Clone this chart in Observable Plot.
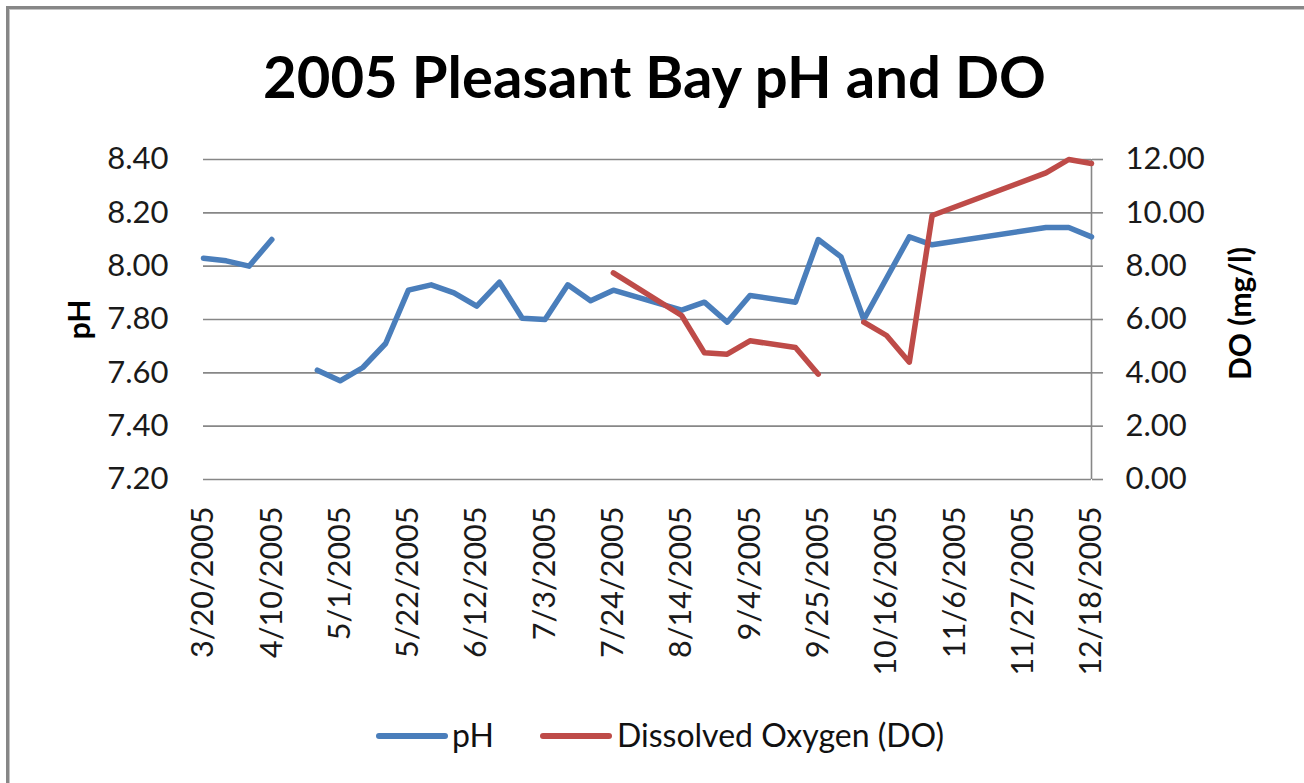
<!DOCTYPE html>
<html>
<head>
<meta charset="utf-8">
<script src="https://cdn.jsdelivr.net/npm/d3@7"></script>
<script src="https://cdn.jsdelivr.net/npm/@observablehq/plot@0.6"></script>
<style>
  html, body { margin: 0; padding: 0; background: #fff; }
  #wrap { position: relative; width: 1304px; height: 783px; overflow: hidden; }
  #frame { position: absolute; left: 6px; top: 6px; width: 1400px; height: 900px;
           border-left: 3px solid #878787; border-top: 3px solid #878787;
           box-shadow: inset 1px 1px 0 #c4c4c4; pointer-events: none; }
  #legend { position: absolute; top: 714px; left: 0; width: 1304px; height: 44px;
            font-family: Lato, "Open Sans", sans-serif; font-size: 32px; color: #111; }
  .sw { position: absolute; height: 6px; border-radius: 3px; top: 19px; }
  .lt { position: absolute; top: 1px; white-space: nowrap; }
</style>
</head>
<body>
<div id="wrap">
  <div id="chart"></div>
  <div id="legend"></div>
  <div id="frame"></div>
</div>
<script>
// ---- data ----
const xTickDates = ["2005-03-20","2005-04-10","2005-05-01","2005-05-22","2005-06-12","2005-07-03","2005-07-24",
                    "2005-08-14","2005-09-04","2005-09-25","2005-10-16","2005-11-06","2005-11-27","2005-12-18"];
const phTicks = [7.2, 7.4, 7.6, 7.8, 8.0, 8.2, 8.4];
const doTicks = [0, 2, 4, 6, 8, 10, 12];

const phDates = ["2005-03-20","2005-03-27","2005-04-03","2005-04-10","2005-04-17","2005-04-24","2005-05-01",
                 "2005-05-08","2005-05-15","2005-05-22","2005-05-29","2005-06-05","2005-06-12","2005-06-19",
                 "2005-06-26","2005-07-03","2005-07-10","2005-07-17","2005-07-24","2005-08-14","2005-08-21",
                 "2005-08-28","2005-09-04","2005-09-18","2005-09-25","2005-10-02","2005-10-09","2005-10-23",
                 "2005-10-30","2005-12-04","2005-12-11","2005-12-18"];
const phValues = [8.03, 8.02, 8.00, 8.10, null, 7.61, 7.57,
                  7.62, 7.71, 7.91, 7.93, 7.90, 7.85, 7.94,
                  7.805, 7.80, 7.93, 7.87, 7.91, 7.835, 7.865,
                  7.79, 7.89, 7.865, 8.10, 8.035, 7.80, 8.11,
                  8.08, 8.145, 8.145, 8.11];

const doDates = ["2005-07-24","2005-08-14","2005-08-21","2005-08-28","2005-09-04","2005-09-18","2005-09-25",
                 "2005-10-02","2005-10-09","2005-10-16","2005-10-23","2005-10-30","2005-12-04","2005-12-11","2005-12-18"];
const doValues = [7.75, 6.15, 4.75, 4.7, 5.2, 4.95, 3.95,
                  null, 5.9, 5.4, 4.4, 9.9, 11.5, 12.0, 11.85];

const seriesNames = ["pH", "Dissolved Oxygen (DO)"];
const seriesColors = ["#4A7EBB", "#BE4B48"];
const titleText = "2005 Pleasant Bay pH and DO";
const leftTitle = "pH";
const rightTitle = "DO (mg/l)";

// ---- build ----
const parse = s => new Date(s + "T00:00:00Z");
const xTicks = xTickDates.map(parse);
const xDomain = [xTicks[0], xTicks[xTicks.length - 1]];
const phMin = phTicks[0], phMax = phTicks[phTicks.length - 1];
const doMax = doTicks[doTicks.length - 1];
const doToPh = v => v == null ? null : phMin + v * (phMax - phMin) / doMax;
const phToDo = p => (p - phMin) * doMax / (phMax - phMin);

const phData = phDates.map((d, i) => ({date: parse(d), v: phValues[i]}));
const doData = doDates.map((d, i) => ({date: parse(d), v: doToPh(doValues[i])}));

const fmtDate = d => `${d.getUTCMonth() + 1}/${d.getUTCDate()}/${d.getUTCFullYear()}`;
const FONT = "Lato, 'Open Sans', sans-serif";

const chart = Plot.plot({
  width: 1304,
  height: 783,
  marginLeft: 203,
  marginRight: 213,
  marginTop: 159,
  marginBottom: 304,
  style: {fontFamily: FONT, fontSize: "31px", color: "#1a1a1a", background: "transparent", overflow: "visible"},
  x: {type: "utc", domain: xDomain},
  y: {domain: [phMin, phMax]},
  marks: [
    Plot.gridY(phTicks, {stroke: "#878787", strokeOpacity: 1, strokeWidth: 1.6}),
    Plot.ruleX([xDomain[1]], {stroke: "#878787", strokeWidth: 1.6}),
    Plot.axisX(xTicks, {tickSize: 0, tickPadding: 27, tickRotate: -90, tickFormat: fmtDate, label: null, fontSize: 30.5}),
    Plot.axisY(phTicks, {anchor: "left", tickSize: 0, tickPadding: 35, tickFormat: d3.format(".2f"), label: null, fontSize: 31}),
    Plot.axisY(doTicks.map(doToPh), {anchor: "right", tickSize: 11, tickPadding: 23, stroke: "#878787", strokeWidth: 1.6,
      tickFormat: p => phToDo(p).toFixed(2), label: null, fontSize: 31}),
    Plot.line(phData, {x: "date", y: "v", stroke: seriesColors[0], strokeWidth: 5.5, strokeLinejoin: "round", strokeLinecap: "round"}),
    Plot.line(doData, {x: "date", y: "v", stroke: seriesColors[1], strokeWidth: 5.5, strokeLinejoin: "round", strokeLinecap: "round"}),
    Plot.text([titleText], {frameAnchor: "top", textAnchor: "middle", lineAnchor: "middle", dy: -80, dx: 7, fontSize: 58, fontWeight: "bold", fill: "#000"}),
    Plot.text([leftTitle], {frameAnchor: "left", textAnchor: "middle", lineAnchor: "middle", dx: -123, rotate: -90, fontSize: 30, fontWeight: "bold", fill: "#000"}),
    Plot.text([rightTitle], {frameAnchor: "right", textAnchor: "middle", lineAnchor: "middle", dx: 150, dy: -6, rotate: -90, fontSize: 30, fontWeight: "bold", fill: "#000"})
  ]
});
document.getElementById("chart").appendChild(chart);

// legend
const legend = document.getElementById("legend");
const legendPos = [{sw: 376, tx: 452}, {sw: 540, tx: 617}];
seriesNames.forEach((name, i) => {
  const sw = document.createElement("div");
  sw.className = "sw";
  sw.style.left = legendPos[i].sw + "px";
  sw.style.width = "72px";
  sw.style.background = seriesColors[i];
  legend.appendChild(sw);
  const t = document.createElement("div");
  t.className = "lt";
  t.style.left = legendPos[i].tx + "px";
  t.textContent = name;
  legend.appendChild(t);
});
</script>
</body>
</html>
